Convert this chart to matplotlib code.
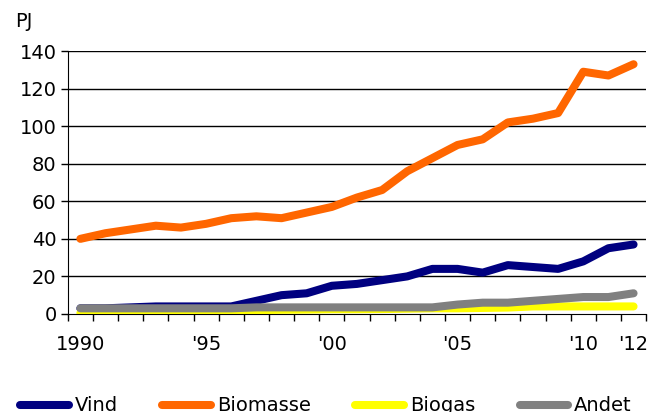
import matplotlib.pyplot as plt
import numpy as np

years = list(range(1990, 2013))
vind = [3, 3, 3.5, 4, 4, 4, 4, 7, 10, 11, 15, 16, 18, 20, 24, 24, 22, 26, 25, 24, 28, 35, 37]
biomasse = [40, 43, 45, 47, 46, 48, 51, 52, 51, 54, 57, 62, 66, 76, 83, 90, 93, 102, 104, 107, 129, 127, 133]
biogas = [0.5, 0.5, 0.5, 0.6, 0.8, 1, 1.2, 2, 2.2, 2.3, 2.5, 2.5, 2.6, 2.8, 3, 3, 3.2, 3.4, 4, 4, 4, 4, 4]
andet = [3, 3, 3, 3, 3, 3, 3, 3.5, 3.5, 3.5, 3.5, 3.5, 3.5, 3.5, 3.5, 5, 6, 6, 7, 8, 9, 9, 11]
tick_years = [1990, 1995, 2000, 2005, 2010, 2012]
tick_labels = ['1990', "'95", "'00", "'05", "'10", "'12"]

plt.rcParams['font.family'] = 'DejaVu Sans'
fig = plt.figure(figsize=(6.52, 4.12), dpi=100)
ax = fig.add_axes([0.104, 0.238, 0.887, 0.638])

series = [('Vind', vind, '#000080'), ('Biomasse', biomasse, '#ff6600'),
          ('Biogas', biogas, '#ffff00'), ('Andet', andet, '#808080')]
# drawing order: orange and blue under, gray on top
for name, vals, col in [series[1], series[0], series[2], series[3]]:
    ax.plot(years, vals, color=col, lw=5.8, solid_capstyle='round',
            solid_joinstyle='round', label=name, zorder=3)

ax.set_ylim(0, 140)
ax.set_yticks(range(0, 141, 20))
ax.set_xlim(1989.5, 2012.5)
ax.set_xticks(tick_years)
ax.set_xticklabels(tick_labels)
ax.set_xticks(np.arange(1989.5, 2012.6, 1), minor=True)
ax.tick_params(axis='x', which='major', length=0, pad=15, labelsize=14)
ax.tick_params(axis='x', which='minor', length=5, width=1, direction='out')
ax.tick_params(axis='y', length=5, width=1, labelsize=14, pad=3)
for y in range(20, 141, 20):
    ax.axhline(y, color='black', lw=1, zorder=1)
ax.spines['top'].set_visible(False)
ax.spines['right'].set_visible(False)

fig.text(0.023, 0.935, 'PJ', fontsize=14)

handles, labels = ax.get_legend_handles_labels()
order = [labels.index(n) for n in ['Vind', 'Biomasse', 'Biogas', 'Andet']]
fig.legend([handles[i] for i in order], [labels[i] for i in order],
           loc='center', bbox_to_anchor=(0.5, 0.015), ncol=4, frameon=False,
           fontsize=14, handlelength=2.5, handletextpad=0.3, columnspacing=2.3)

fig.savefig('out.png', dpi=100)
